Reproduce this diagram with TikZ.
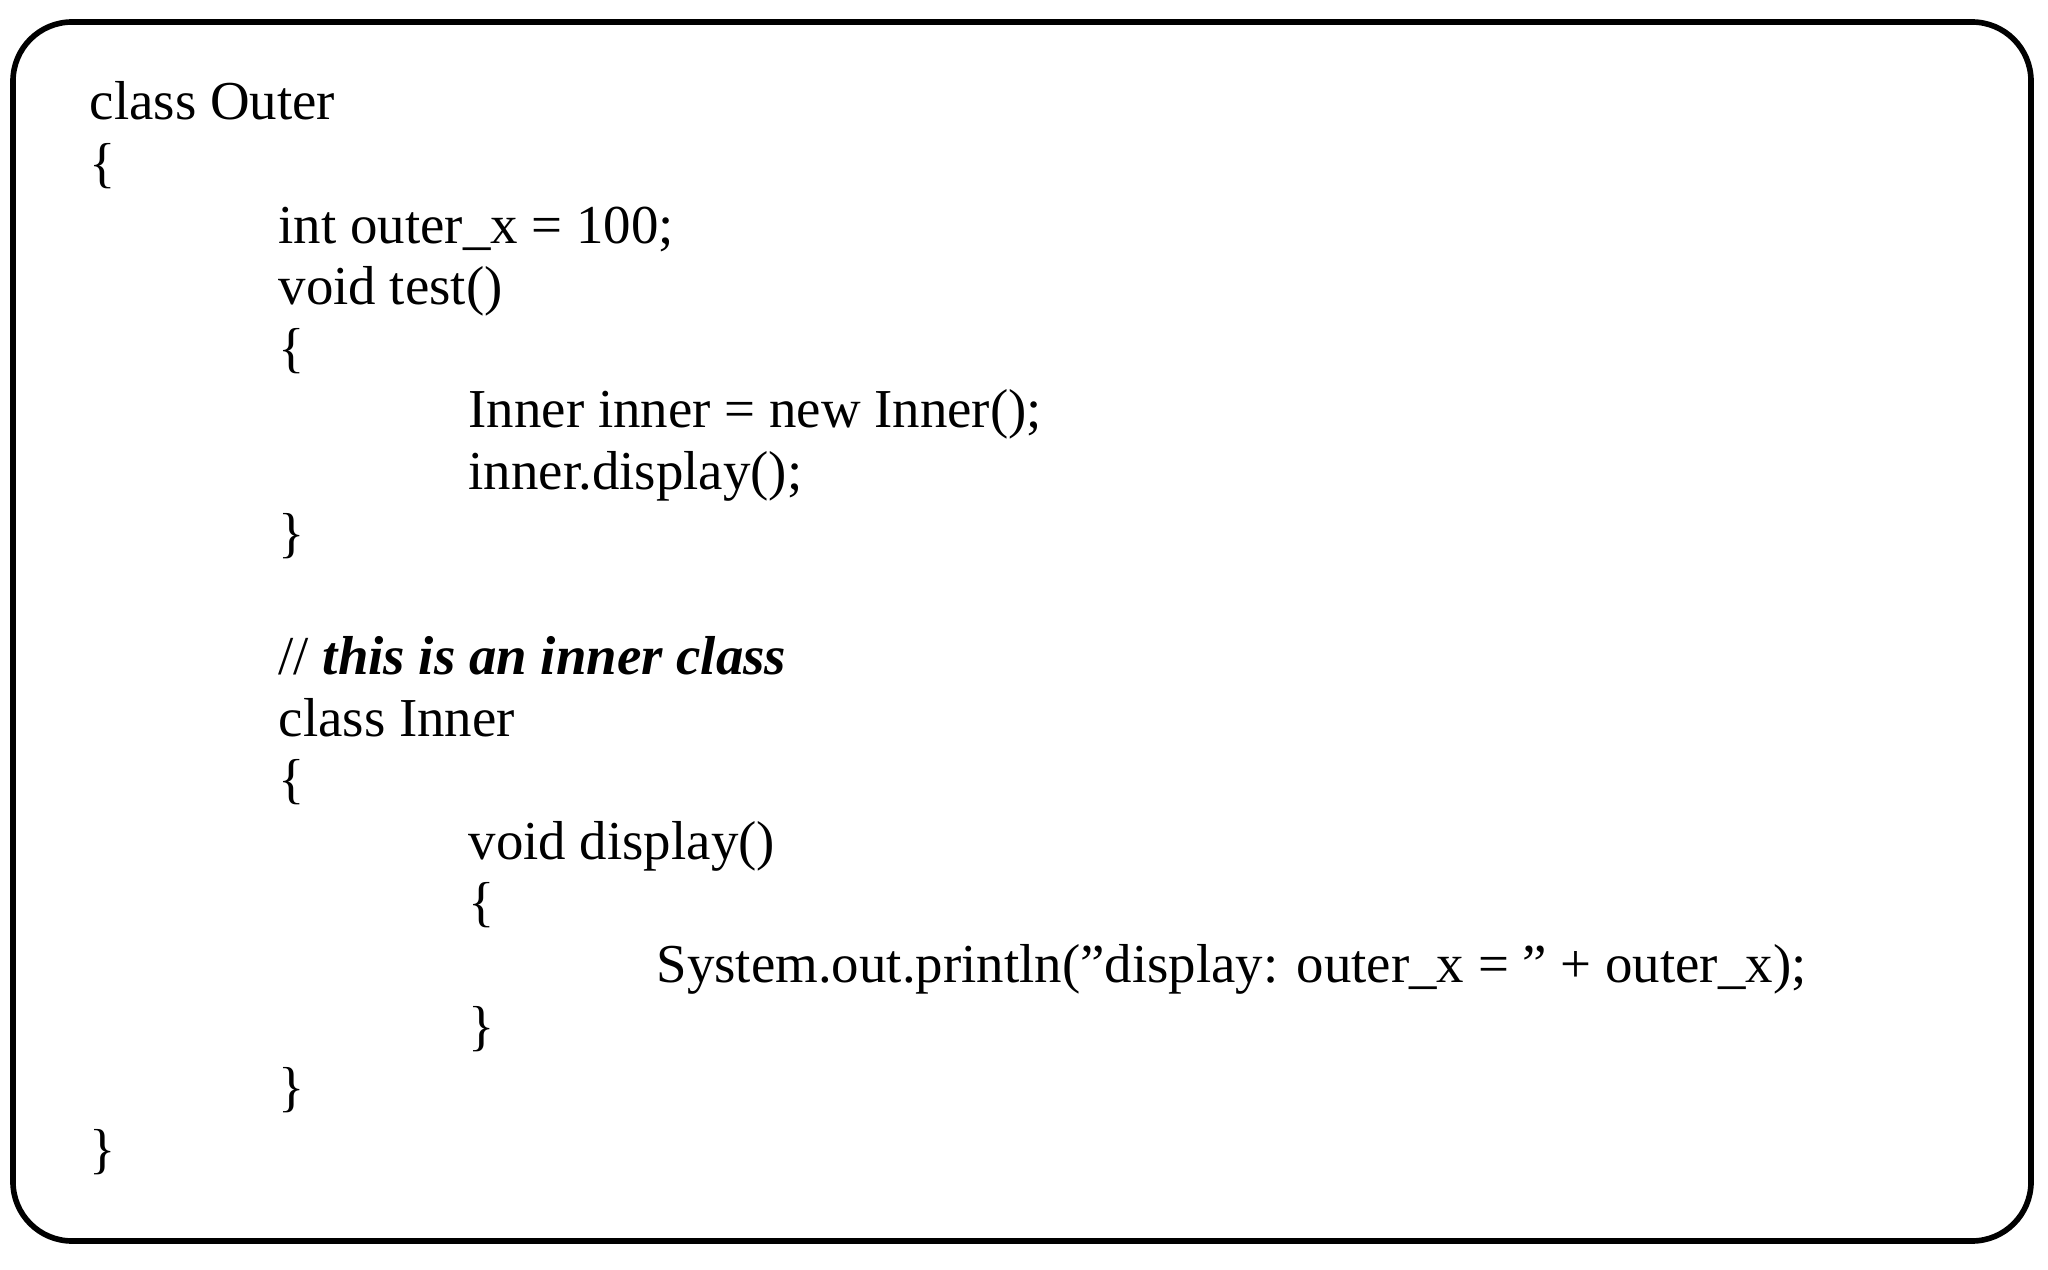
\documentclass[tikz,border=0pt]{standalone}
\usepackage{fontspec}
\setmainfont[Ligatures=NoCommon]{Liberation Serif}
\newcommand{\dq}{\char"22\relax}
\begin{document}
\begin{tikzpicture}[x=0.01cm,y=-0.01cm,
  code/.style={anchor=base west,inner sep=0pt,font=\fontsize{15.6}{19}\selectfont}]
\useasboundingbox (0,0) rectangle (2048,1270);
\draw[line width=1.6pt,rounded corners=0.59cm] (13,22) rectangle (2031,1241);
\def\L#1{120+#1*61.6}
\node[code] (l0) at (89,{\L{0}}) {class Outer};
\node[code] (l1) at (89,{\L{1}}) {\{};
\node[code] (l2) at (278,{\L{2}}) {int outer\_x = 100;};
\node[code] (l3) at (278,{\L{3}}) {void test()};
\node[code] (l4) at (278,{\L{4}}) {\{};
\node[code] (l5) at (468,{\L{5}}) {Inner inner = new Inner();};
\node[code] (l6) at (468,{\L{6}}) {inner.display();};
\node[code] (l7) at (278,{\L{7}}) {\}};
\node[code] (l9) at (278,{\L{9}}) {// \textbf{\textit{this is an inner class}}};
\node[code] (l10) at (278,{\L{10}}) {class Inner};
\node[code] (l11) at (278,{\L{11}}) {\{};
\node[code] (l12) at (468,{\L{12}}) {void display()};
\node[code] (l13) at (468,{\L{13}}) {\{};
\node[code] (l14) at (656,{\L{14}}) {System.out.println(\dq display: outer\_x = \dq\ + outer\_x);};
\node[code] (l15) at (468,{\L{15}}) {\}};
\node[code] (l16) at (278,{\L{16}}) {\}};
\node[code] (l17) at (89,{\L{17}}) {\}};
\end{tikzpicture}
\end{document}
